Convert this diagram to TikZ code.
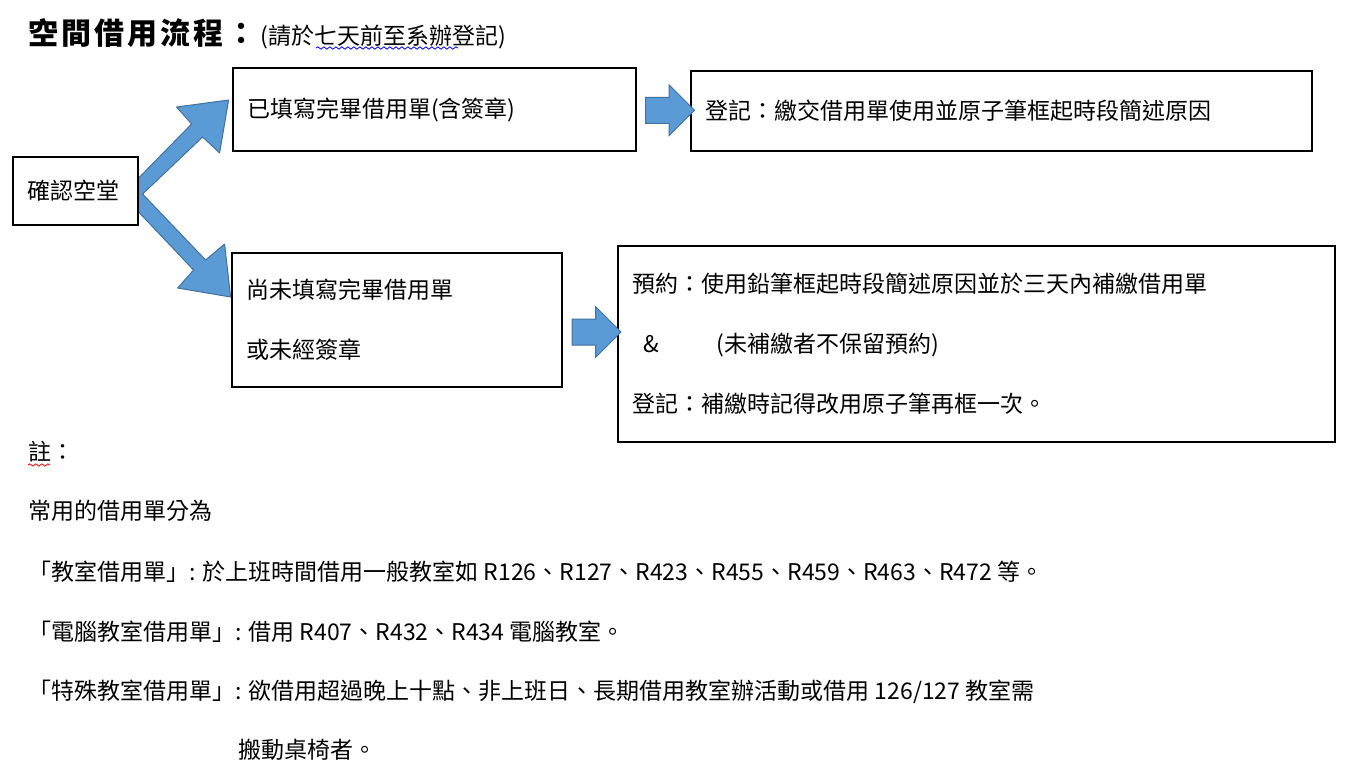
\documentclass[tikz,border=0pt]{standalone}
\usepackage{fontspec}
\setmainfont{Noto Sans CJK TC}
\usetikzlibrary{shapes.arrows,calc,backgrounds,decorations.pathmorphing}
\definecolor{arrowfill}{HTML}{5B9BD5}
\definecolor{arrowline}{HTML}{41719C}

\begin{document}
\begin{tikzpicture}[x=0.5pt,y=-0.5pt,
		box/.style={draw,line width=0.6pt,inner xsep=7pt,inner ysep=0pt,align=left,font=\fontsize{11.5pt}{30pt}\selectfont},
		txt/.style={anchor=west,inner sep=0pt,font=\fontsize{11.5pt}{14pt}\selectfont},
		fatarrow/.style={single arrow,draw=arrowline,fill=arrowfill,line width=0.5pt,inner xsep=0pt,inner ysep=6.25pt,minimum height=24.5pt,single arrow head extend=6.25pt,single arrow head indent=0pt},
		fork/.style={draw=arrowline,fill=arrowfill,line width=0.5pt,line join=round},
		wavy/.style={decorate,decoration={snake,amplitude=0.6pt,segment length=3pt},line width=0.4pt}]
		\useasboundingbox (0,0) rectangle (1347,773);

		\node[anchor=west,inner sep=0pt,font=\fontsize{15pt}{17pt}\selectfont\bfseries\addfontfeatures{LetterSpace=10}] (title) at (28,33) {空間借用流程：};
		\node[anchor=west,inner sep=0pt,font=\fontsize{11.5pt}{14pt}\selectfont] (when) at (260,37) {(請於七天前至系辦登記)};
		\draw[wavy,blue] (316,48) -- (458,48);

		\node[box,text width=48.5pt,minimum height=34pt] (chk) at (75.5,191) {確認空堂};
		\node[box,text width=187.5pt,minimum height=41.5pt] (done) at (434.5,109.5) {已填寫完畢借用單(含簽章)};
		\node[box,text width=296.5pt,minimum height=40pt] (reg) at (1001.5,111) {登記：繳交借用單使用並原子筆框起時段簡述原因};
		\node[box,text width=151pt,minimum height=67pt] (notyet) at (397,320) {尚未填寫完畢借用單\\或未經簽章};
		\node[box,text width=344.5pt,minimum height=98pt] (resv) at (976.5,344) {預約：使用鉛筆框起時段簡述原因並於三天內補繳借用單\\\hspace*{5.5pt}\&\hspace{29pt}(未補繳者不保留預約)\\登記：補繳時記得改用原子筆再框一次。};

		\begin{scope}[on background layer]
		\draw[fork,shift={(chk.east)}] (0,-13) -- (53,-67) -- (38,-84) -- (90,-91) -- (81,-38) -- (64,-54)
		  -- (4,3) -- (67,69) -- (86,53) -- (92,106) -- (39,97) -- (55,79) -- (0,21) -- cycle;
		\end{scope}
		\node[fatarrow] (go1) at ($(done.east)!0.5!(reg.west)$) {};
		\node[fatarrow] (go2) at ($(notyet.east)!0.5!(resv.west)$) {};

		\node[txt] (note) at (28,452) {註：};
		\draw[wavy,red] (28,465) -- (50,465);
		\node[txt] (kinds) at (28,511) {常用的借用單分為};
		\node[txt] (room) at (28,572) {「教室借用單」: 於上班時間借用一般教室如 R126、R127、R423、R455、R459、R463、R472 等。};
		\node[txt] (pc) at (28,632) {「電腦教室借用單」: 借用 R407、R432、R434 電腦教室。};
		\node[txt] (spec) at (28,692) {「特殊教室借用單」: 欲借用超過晚上十點、非上班日、長期借用教室辦活動或借用 126/127 教室需};
		\node[txt] (spec2) at (238,750) {搬動桌椅者。};
\end{tikzpicture}
\end{document}
